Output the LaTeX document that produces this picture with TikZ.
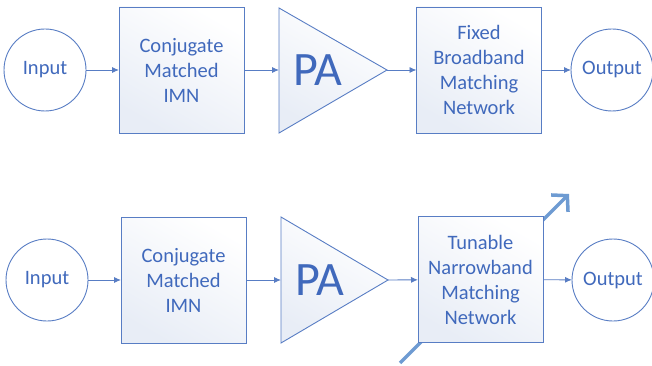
\documentclass[tikz,border=0pt]{standalone}
\usepackage{fontspec}
\setmainfont{Carlito}
\usetikzlibrary{arrows.meta}
\definecolor{txtblue}{RGB}{64,105,188}
\definecolor{lineblue}{RGB}{88,125,196}
\definecolor{tuneblue}{RGB}{110,155,210}
\definecolor{shadeblue}{RGB}{232,237,246}
\begin{document}
\begin{tikzpicture}[x=1pt,y=-1pt,
  every node/.style={text=txtblue},
  circ/.style={draw=lineblue, line width=0.9pt, circle, fill=white, minimum size=82pt, inner sep=0pt, outer sep=0pt, font=\fontsize{20.5}{25}\selectfont},
  blk/.style={draw=lineblue, line width=0.9pt, rectangle, minimum width=125pt, minimum height=126pt, inner sep=0pt, outer sep=0pt, align=center, font=\fontsize{20.5}{25}\selectfont, top color=white, bottom color=shadeblue, shading angle=-30},
  tri/.style={draw=lineblue, line width=0.9pt, top color=white, bottom color=shadeblue, shading angle=-30},
  conn/.style={draw=lineblue, line width=0.9pt, -{Latex[length=7pt,width=6pt]}},
  patext/.style={font=\fontsize{48}{48}\selectfont}
]
\useasboundingbox (0,0) rectangle (652,366);
\fill[white] (0,0) rectangle (652,366);

% ---------- top row ----------
\node[circ] (in1) at (45,70) {Input};
\node[blk] (cm1) at (181.5,70) {Conjugate\\Matched\\IMN};
\path[tri] (279,8) -- (387,70) -- (279,133) -- cycle;
\coordinate (pa1l) at (279,70);
\coordinate (pa1r) at (387,70);
\node[patext] (pa1) at (318,70) {PA};
\node[blk] (fb1) at (479,70) {Fixed\\Broadband\\Matching\\Network};
\node[circ] (out1) at (612,70) {Output};
\draw[conn] (in1) -- (cm1);
\draw[conn] (cm1) -- (pa1l);
\draw[conn] (pa1r) -- (fb1);
\draw[conn] (fb1) -- (out1);

% ---------- bottom row ----------
\coordinate (tunea) at (400,363);
\coordinate (tuneb) at (569,194);
\draw[tuneblue, line width=3.5pt, -{Straight Barb[length=11pt,width=24pt,line width=3.5pt]}] (tunea) -- (tuneb);
\node[circ] (in2) at (47,280) {Input};
\node[blk] (cm2) at (183.5,280) {Conjugate\\Matched\\IMN};
\path[tri] (281,217) -- (388,280) -- (281,343) -- cycle;
\coordinate (pa2l) at (281,280);
\coordinate (pa2r) at (388,280);
\node[patext] (pa2) at (320,280) {PA};
\node[blk] (tn2) at (480.5,279.5) {Tunable\\Narrowband\\Matching\\Network};
\node[circ] (out2) at (613,280) {Output};
\draw[conn] (in2) -- (cm2);
\draw[conn] (cm2) -- (pa2l);
\draw[conn] (pa2r) -- (tn2);
\draw[conn] (tn2) -- (out2);
\end{tikzpicture}
\end{document}
